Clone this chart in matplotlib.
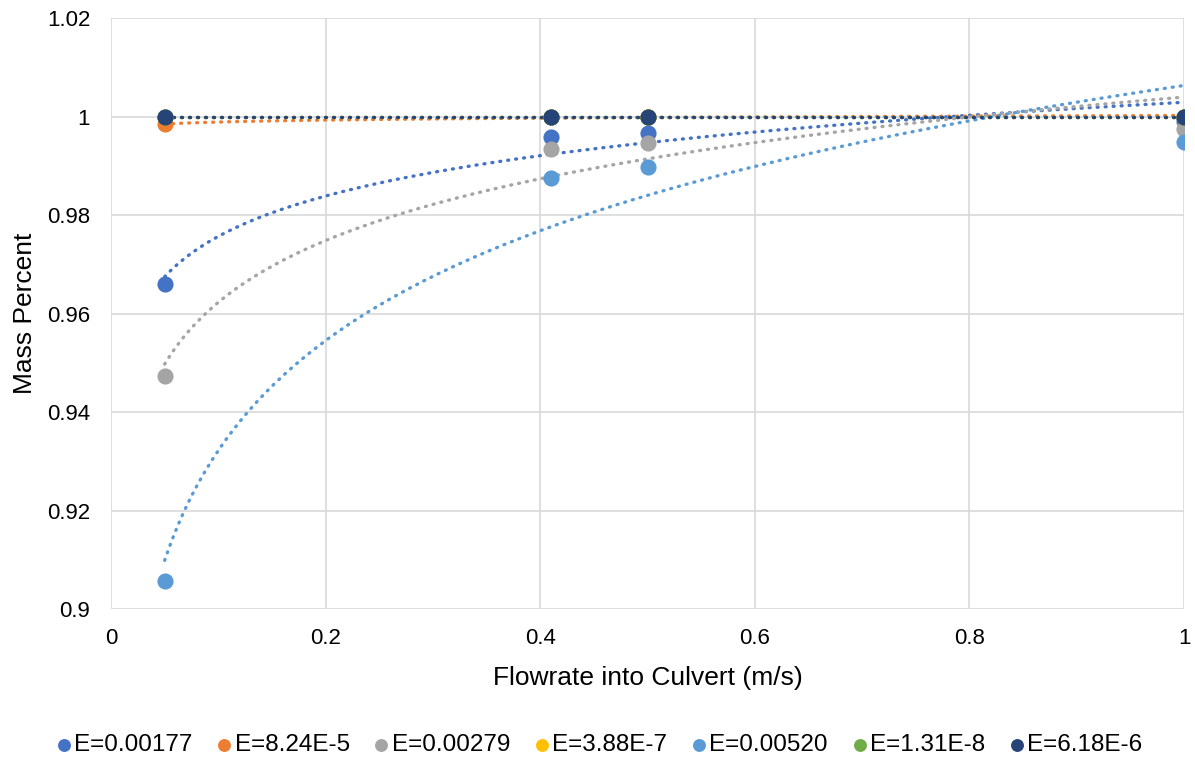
import numpy as np
import matplotlib
matplotlib.use("Agg")
import matplotlib.pyplot as plt

plt.rcParams['font.family'] = ['Liberation Sans', 'DejaVu Sans']

x = [0.05, 0.41, 0.5, 1.0]
labels = ["E=0.00177", "E=8.24E-5", "E=0.00279", "E=3.88E-7",
          "E=0.00520", "E=1.31E-8", "E=6.18E-6"]
colors = ["#4472C4", "#ED7D31", "#A5A5A5", "#FFC000",
          "#5B9BD5", "#70AD47", "#264478"]
y_e00177 = [0.9660, 0.9958, 0.9966, 0.9990]
y_e824e5 = [0.9984, 0.9999, 0.9999, 1.0000]
y_e00279 = [0.9473, 0.9935, 0.9946, 0.9975]
y_e388e7 = [1.0000, 1.0000, 1.0000, 1.0000]
y_e00520 = [0.9056, 0.9875, 0.9898, 0.9949]
y_e131e8 = [1.0000, 1.0000, 1.0000, 1.0000]
y_e618e6 = [1.0000, 1.0000, 1.0000, 1.0000]
series = [y_e00177, y_e824e5, y_e00279, y_e388e7, y_e00520, y_e131e8, y_e618e6]

fig = plt.figure(figsize=(11.95, 7.61), dpi=100)
ax = fig.add_axes([0.0929, 0.1997, 0.8979, 0.7766])

xs = np.linspace(min(x), max(x), 300)
for ys, c in zip(series, colors):
    b, a = np.polyfit(np.log(x), ys, 1)
    ax.plot(xs, a + b * np.log(xs), color=c, lw=2.4, ls=(0, (0.3, 2.1)),
            dash_capstyle='round', zorder=2)

for ys, c, lab in zip(series, colors, labels):
    ax.scatter(x, ys, s=135, color=c, label=lab, zorder=3, linewidths=0)

ax.set_xlim(0, 1)
ax.set_ylim(0.9, 1.02)
ax.set_xticks(np.arange(0, 1.01, 0.2))
ax.set_xticklabels(["0", "0.2", "0.4", "0.6", "0.8", "1"])
ax.set_yticks(np.arange(0.9, 1.021, 0.02))
ax.set_yticklabels(["0.9", "0.92", "0.94", "0.96", "0.98", "1", "1.02"])
ax.grid(True, color="#D9D9D9", lw=1.2)
ax.set_axisbelow(True)
for s in ax.spines.values():
    s.set_visible(False)
ax.tick_params(length=0, labelsize=16, labelcolor="black")
ax.tick_params(axis='y', pad=15)
ax.tick_params(axis='x', pad=14)
ax.set_xlabel("Flowrate into Culvert (m/s)", fontsize=19, labelpad=12)
ax.set_ylabel("Mass Percent", fontsize=19, labelpad=7)

fig.legend(loc="center", bbox_to_anchor=(0.5008, 0.021), ncol=7,
           frameon=False, fontsize=17.5, handletextpad=0.05, columnspacing=0.93,
           handlelength=0.75, markerscale=0.8, borderaxespad=0, borderpad=0)

fig.savefig("out.png", dpi=100)
